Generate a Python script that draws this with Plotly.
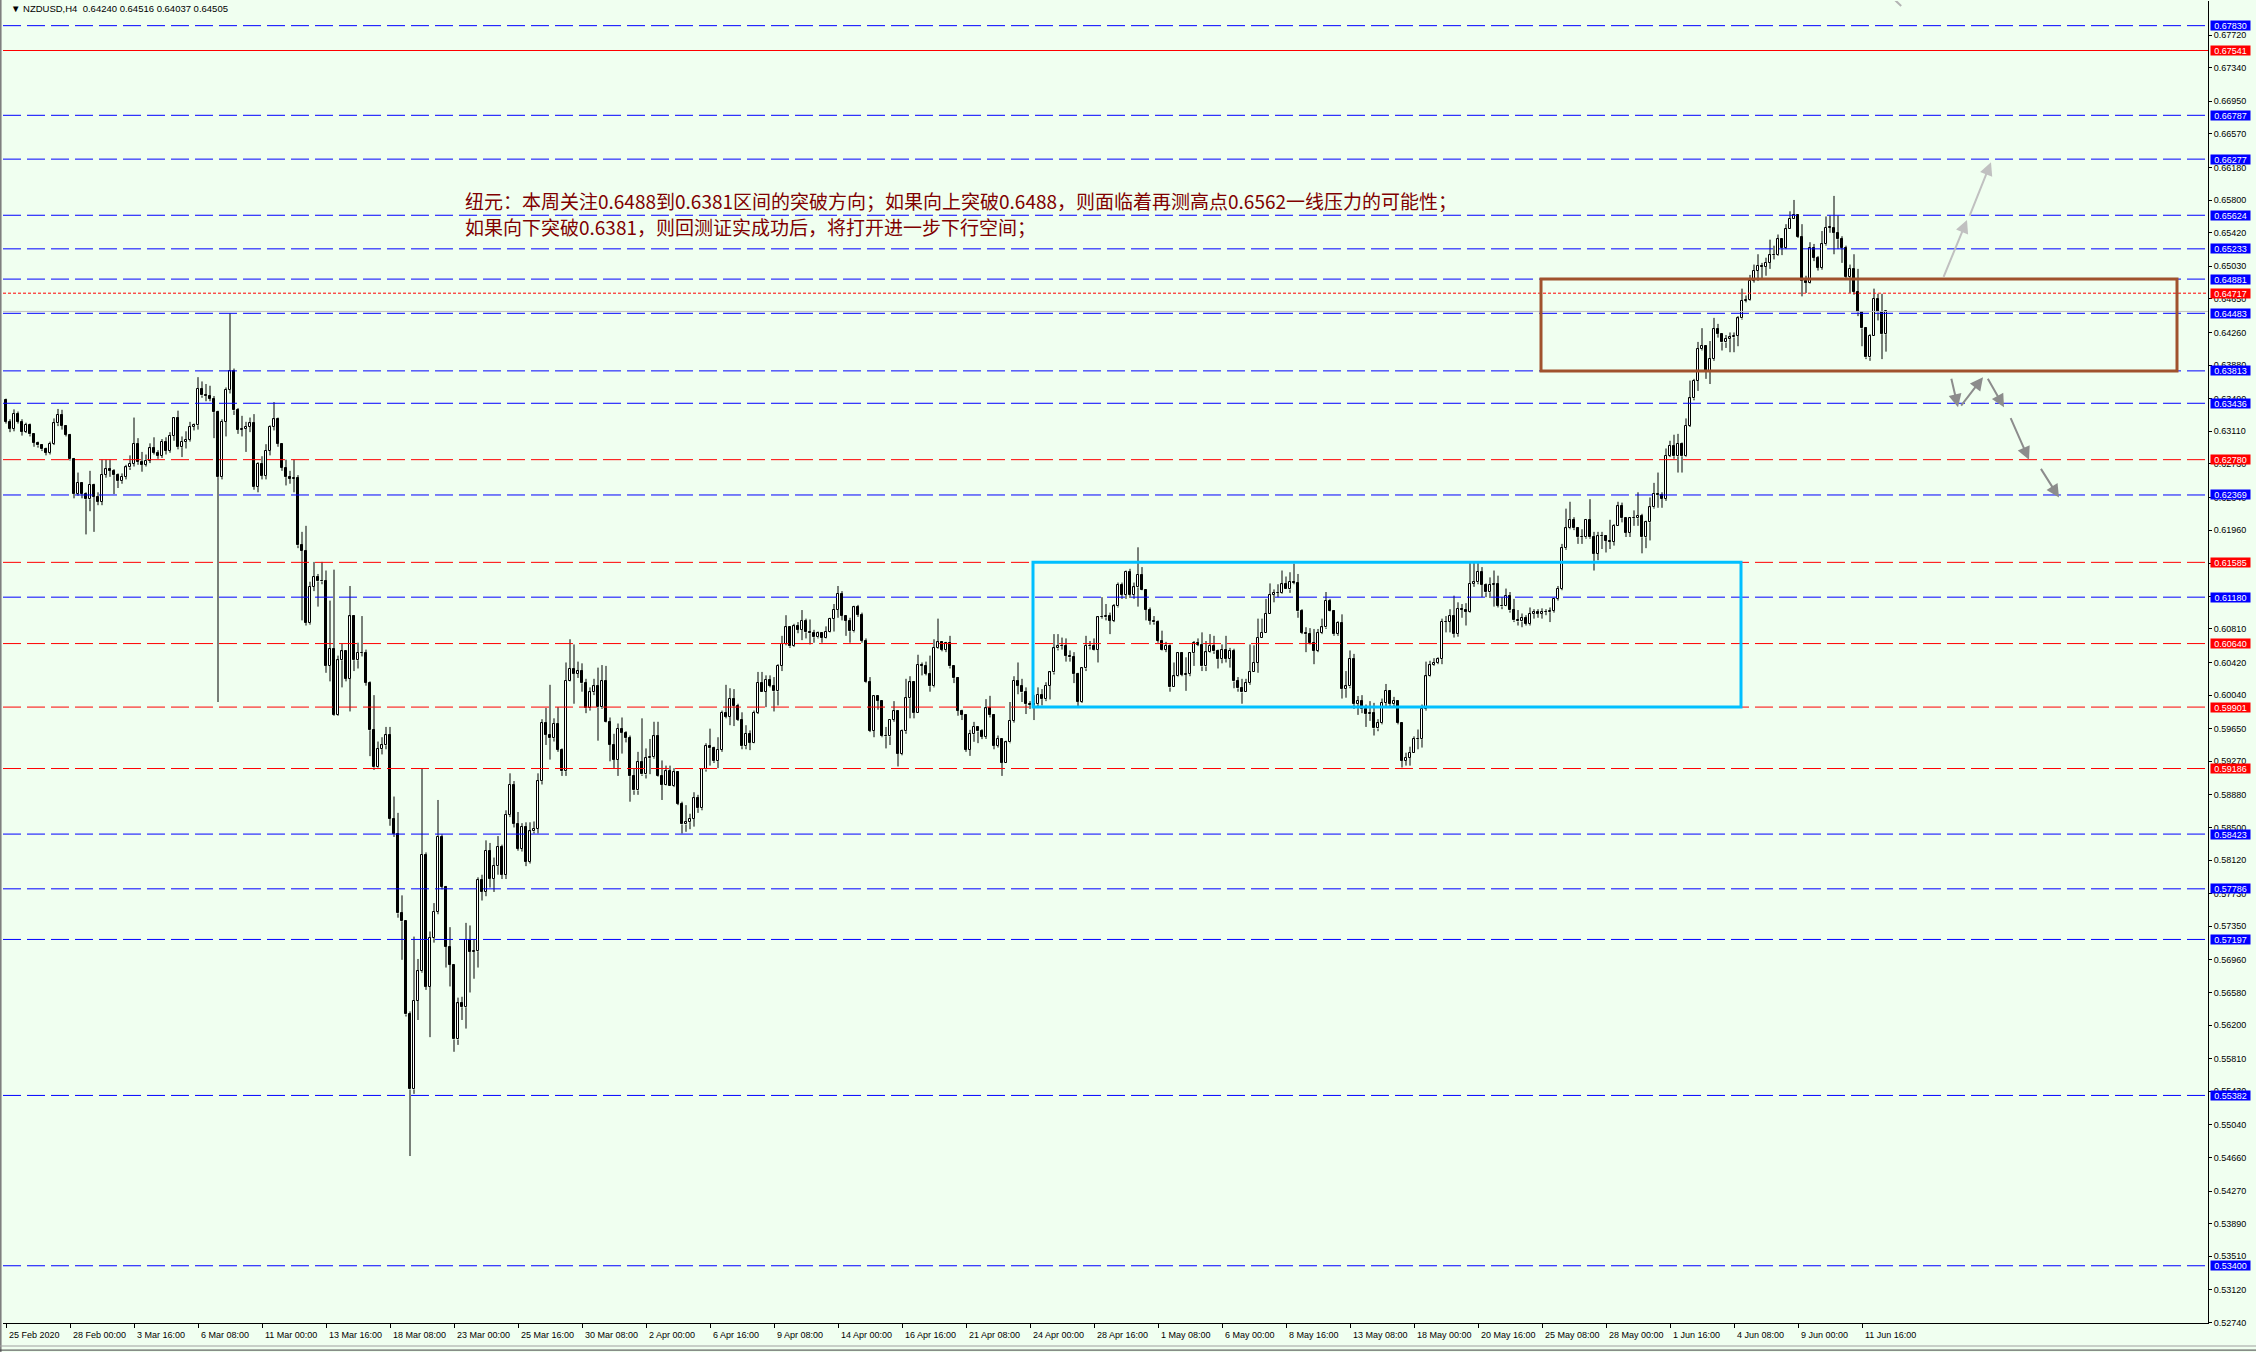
import plotly.graph_objects as go

# ---------------- data (NZDUSD H4) ----------------
first_open = 0.6347
closes = [
 0.63223,0.63139,0.63314,0.63223,0.63107,0.63185,0.63075,0.62978,0.62946,0.62900,
 0.62862,0.62965,0.63204,0.63301,0.63172,0.63068,0.62784,0.62384,0.62513,0.62384,
 0.62319,0.62487,0.62350,0.62290,0.62603,0.62668,0.62650,0.62600,0.62530,0.62580,
 0.62690,0.62730,0.62965,0.62752,0.62720,0.62770,0.62913,0.62862,0.62823,0.62991,
 0.62881,0.63055,0.63262,0.62926,0.62990,0.63010,0.63159,0.63180,0.63604,0.63527,
 0.63520,0.63488,0.63333,0.62577,0.63223,0.63592,0.63811,0.63353,0.63127,0.63140,
 0.63160,0.63204,0.62461,0.62732,0.62590,0.62881,0.63159,0.63250,0.62965,0.62687,
 0.62577,0.62560,0.62570,0.61783,0.61718,0.60878,0.61298,0.61414,0.61363,0.61370,
 0.60381,0.60575,0.59813,0.60446,0.60549,0.60232,0.60956,0.60446,0.60536,0.60530,
 0.60187,0.59631,0.59199,0.59412,0.59457,0.59573,0.58598,0.58423,0.57500,0.57409,
 0.56324,0.55452,0.56486,0.56828,0.58184,0.56647,0.57216,0.57520,0.58391,0.57810,
 0.57112,0.56905,0.56033,0.56453,0.56408,0.57196,0.57054,0.57060,0.57887,0.57750,
 0.58226,0.57900,0.58050,0.58272,0.57950,0.58648,0.59000,0.58543,0.58253,0.58505,
 0.58100,0.58454,0.58485,0.59039,0.59713,0.59578,0.59539,0.59706,0.59407,0.59155,
 0.60209,0.60345,0.60287,0.60318,0.60178,0.59888,0.60074,0.60144,0.59899,0.60202,
 0.59725,0.59462,0.59291,0.59648,0.59601,0.59539,0.59097,0.58931,0.59260,0.59117,
 0.59306,0.59318,0.59562,0.59097,0.58998,0.59155,0.58981,0.59144,0.58776,0.58535,
 0.58562,0.58601,0.58842,0.58725,0.59175,0.59446,0.59423,0.59272,0.59407,0.59834,
 0.59791,0.59996,0.59919,0.59756,0.59446,0.59589,0.59485,0.59834,0.60182,0.60082,
 0.60221,0.60151,0.60085,0.60384,0.60636,0.60830,0.60609,0.60841,0.60802,0.60907,
 0.60771,0.60760,0.60713,0.60760,0.60706,0.60779,0.60926,0.61031,0.61217,0.60965,
 0.60907,0.60783,0.61062,0.60977,0.60675,0.60190,0.59628,0.60027,0.59977,0.59562,
 0.59560,0.59752,0.59853,0.59357,0.59620,0.60004,0.60190,0.59834,0.60392,0.60384,
 0.60287,0.60144,0.60589,0.60655,0.60566,0.60643,0.60376,0.60237,0.59861,0.59814,
 0.59407,0.59586,0.59675,0.59617,0.59555,0.59885,0.59807,0.59450,0.59528,0.59256,
 0.59489,0.59741,0.60207,0.60149,0.60071,0.59935,0.59924,0.59935,0.60044,0.59993,
 0.60149,0.60304,0.60583,0.60607,0.60607,0.60498,0.60479,0.60285,0.59962,0.60351,
 0.60614,0.60607,0.60568,0.60945,0.60945,0.60964,0.60906,0.61073,0.61325,0.61205,
 0.61476,0.61205,0.61294,0.61438,0.61267,0.61031,0.60906,0.60886,0.60673,0.60568,
 0.60614,0.60129,0.60257,0.60529,0.60277,0.60285,0.60529,0.60646,0.60626,0.60374,
 0.60537,0.60614,0.60549,0.60459,0.60564,0.60459,0.60556,0.60199,0.60118,0.60071,
 0.60180,0.60313,0.60418,0.60709,0.60767,0.60988,0.61205,0.61228,0.61228,0.61330,
 0.61270,0.61358,0.61350,0.61014,0.60762,0.60750,0.60646,0.60556,0.60762,0.60828,
 0.61139,0.61014,0.60750,0.60879,0.60110,0.60141,0.60459,0.59935,0.59974,0.59877,
 0.59819,0.59827,0.59652,0.59714,0.59954,0.60090,0.59935,0.59974,0.59714,0.59275,
 0.59314,0.59372,0.59528,0.59528,0.59877,0.60257,0.60389,0.60413,0.60459,0.60894,
 0.60894,0.60964,0.60750,0.61044,0.61036,0.61013,0.61335,0.61354,0.61478,0.61323,
 0.61237,0.61323,0.61335,0.61083,0.61072,0.61199,0.61025,0.60909,0.60897,0.60936,
 0.60870,0.60986,0.61005,0.60986,0.61005,0.61005,0.61021,0.61160,0.61277,0.61750,
 0.61982,0.62083,0.61982,0.61877,0.61877,0.62083,0.61877,0.61684,0.61889,0.61889,
 0.61838,0.61827,0.62013,0.62238,0.62098,0.61928,0.62098,0.62098,0.62129,0.61877,
 0.62052,0.62226,0.62381,0.62369,0.62323,0.62826,0.62943,0.62819,0.62962,0.62819,
 0.63175,0.63493,0.63698,0.64066,0.64105,0.63815,0.63950,0.64299,0.64241,0.64144,
 0.64183,0.64202,0.64221,0.64423,0.64628,0.64640,0.64859,0.64977,0.65035,0.65027,
 0.65074,0.65159,0.65159,0.65345,0.65248,0.65461,0.65585,0.65624,0.65376,0.64861,
 0.64841,0.65248,0.65132,0.65016,0.65287,0.65481,0.65481,0.65423,0.65345,0.65248,
 0.64911,0.65004,0.64733,0.64493,0.64307,0.63970,0.64221,0.64655,0.64493,0.64240,
 0.64505]
highs = [
 0.6349,0.6325,0.63365,0.6334,0.6325,0.6321,0.6320,0.6308,0.6299,0.6296,
 0.6292,0.6299,0.6326,0.6337,0.6336,0.6318,0.6308,0.6280,0.6263,0.6252,
 0.6240,0.6265,0.6250,0.6240,0.6278,0.6278,0.6278,0.6267,0.6262,0.6262,
 0.6272,0.6283,0.6327,0.6303,0.6287,0.6284,0.6297,0.6304,0.6289,0.6302,
 0.6304,0.6310,0.6327,0.6335,0.6305,0.6311,0.6322,0.6320,0.6374,0.6369,
 0.6366,0.6364,0.6352,0.6335,0.6325,0.6362,0.64483,0.6384,0.6338,0.6329,
 0.6322,0.6327,0.6331,0.6275,0.6282,0.6296,0.6318,0.6345,0.6327,0.6297,
 0.6278,0.6265,0.6278,0.6260,0.6194,0.6201,0.6136,0.6159,0.6145,0.6159,
 0.6149,0.6114,0.6150,0.6050,0.6064,0.6052,0.6131,0.6097,0.6065,0.6096,
 0.6057,0.6020,0.6004,0.5950,0.5955,0.5967,0.5967,0.5886,0.5867,0.5771,
 0.5737,0.5636,0.5723,0.5697,0.59192,0.5821,0.5729,0.5762,0.5882,0.5842,
 0.5782,0.5734,0.5690,0.5652,0.5653,0.5739,0.5736,0.5720,0.5792,0.5795,
 0.5835,0.5832,0.5815,0.5840,0.5830,0.5870,0.5913,0.5904,0.5868,0.5855,
 0.5856,0.5856,0.5857,0.5913,0.5976,0.5989,0.6016,0.5977,0.5990,0.5942,
 0.6042,0.6069,0.6063,0.6043,0.6041,0.6023,0.6013,0.6023,0.6036,0.6039,
 0.6038,0.5978,0.5959,0.5971,0.5978,0.5962,0.5957,0.5918,0.5938,0.5977,
 0.5942,0.5953,0.5973,0.5973,0.5928,0.5922,0.5922,0.5919,0.5915,0.5880,
 0.5876,0.5866,0.5891,0.5888,0.5919,0.5948,0.5965,0.5944,0.5955,0.5986,
 0.6016,0.6012,0.6011,0.5994,0.5984,0.5969,0.5963,0.5986,0.6031,0.6031,
 0.6027,0.6027,0.6025,0.6040,0.6073,0.6097,0.6084,0.6087,0.6089,0.6103,
 0.6093,0.6092,0.6080,0.6078,0.6077,0.6084,0.6094,0.6110,0.6131,0.6125,
 0.6097,0.6094,0.6108,0.6109,0.6100,0.6070,0.6025,0.6003,0.6003,0.5998,
 0.5967,0.5975,0.5997,0.5986,0.5964,0.6023,0.6026,0.6020,0.6051,0.6042,
 0.6043,0.6050,0.6069,0.6093,0.6066,0.6066,0.6073,0.6033,0.6025,0.5987,
 0.5982,0.59636,0.59729,0.59675,0.59644,0.59993,0.60032,0.5982,0.5957,0.5949,
 0.5951,0.5996,0.6026,0.6042,0.6023,0.6013,0.5997,0.6004,0.6013,0.6011,
 0.6019,0.6032,0.6075,0.6075,0.6071,0.6070,0.6056,0.6054,0.6030,0.6036,
 0.6073,0.6067,0.6070,0.6096,0.6118,0.6110,0.6100,0.6110,0.6135,0.6135,
 0.6149,0.6151,0.6135,0.6176,0.6153,0.6127,0.6106,0.6096,0.6091,0.6079,
 0.6066,0.6063,0.6042,0.6054,0.6054,0.6048,0.6054,0.6067,0.6070,0.6077,
 0.6067,0.6075,0.6073,0.6057,0.6063,0.6073,0.6059,0.6058,0.6025,0.6023,
 0.6023,0.6063,0.6062,0.6093,0.6093,0.6116,0.6134,0.6127,0.6133,0.6149,
 0.6142,0.6147,0.6157,0.6145,0.6104,0.6083,0.6082,0.6081,0.6081,0.6093,
 0.6124,0.6116,0.6103,0.6090,0.6098,0.6032,0.6056,0.6052,0.6003,0.6004,
 0.5993,0.5997,0.5995,0.5976,0.6000,0.6017,0.6010,0.6002,0.5997,0.5972,
 0.5937,0.5944,0.5956,0.5964,0.5993,0.6043,0.6044,0.6047,0.6048,0.6093,
 0.6096,0.6104,0.61197,0.6112,0.6110,0.6111,0.61594,0.6159,0.6159,0.6153,
 0.6134,0.6141,0.6149,0.6143,0.6118,0.6128,0.6124,0.6116,0.6103,0.6099,
 0.6097,0.6106,0.6104,0.6104,0.6105,0.6104,0.6106,0.6117,0.6131,0.6180,
 0.6221,0.6229,0.6211,0.6199,0.6197,0.6209,0.6232,0.6194,0.6194,0.6194,
 0.6190,0.6208,0.6203,0.6229,0.6228,0.6210,0.6211,0.6219,0.6240,0.6215,
 0.6207,0.6234,0.6251,0.6263,0.6240,0.6291,0.6300,0.6307,0.6308,0.6298,
 0.6326,0.6370,0.6372,0.6415,0.6431,0.6411,0.6416,0.6443,0.6436,0.6424,
 0.6423,0.6426,0.6426,0.6445,0.6477,0.6469,0.6493,0.6505,0.6517,0.6507,
 0.6513,0.6534,0.6527,0.6540,0.6534,0.6552,0.6567,0.65802,0.6563,0.6552,
 0.6492,0.6531,0.6529,0.6515,0.6544,0.6561,0.6562,0.65849,0.6562,0.6538,
 0.6527,0.6505,0.6517,0.6500,0.6449,0.6432,0.6424,0.6477,0.6471,0.6471,
 0.64516]
lows = [
 0.6320,0.6310,0.6311,0.6320,0.6306,0.6309,0.6305,0.6293,0.6292,0.6288,
 0.6283,0.6284,0.6295,0.6317,0.6313,0.6305,0.6277,0.6233,0.6236,0.6233,
 0.6191,0.6218,0.6194,0.6225,0.6225,0.6257,0.6258,0.6238,0.6245,0.6250,
 0.6255,0.6266,0.6270,0.6272,0.6264,0.6270,0.6274,0.6284,0.6279,0.6280,
 0.6284,0.6286,0.6300,0.6290,0.6281,0.6291,0.6299,0.6312,0.6313,0.6350,
 0.6346,0.6346,0.6303,0.59960,0.6255,0.6305,0.6355,0.6330,0.6308,0.6305,
 0.6287,0.6310,0.6243,0.6240,0.6255,0.6255,0.6283,0.6312,0.6293,0.6265,
 0.6248,0.6250,0.6240,0.6175,0.6091,0.6085,0.6086,0.6125,0.6107,0.6133,
 0.6030,0.6020,0.5980,0.5980,0.6013,0.6020,0.5985,0.6032,0.6035,0.6049,
 0.6015,0.5933,0.5917,0.5918,0.5935,0.5941,0.5852,0.5839,0.5745,0.5696,
 0.5630,0.54677,0.5540,0.5626,0.5681,0.5661,0.5606,0.5716,0.5749,0.5778,
 0.5687,0.5665,0.5589,0.5597,0.5626,0.5616,0.5658,0.5674,0.5687,0.5765,
 0.5770,0.5780,0.5775,0.5795,0.5790,0.5790,0.5862,0.5850,0.5823,0.5822,
 0.5805,0.5808,0.5843,0.5843,0.5900,0.5946,0.5929,0.5950,0.5938,0.5910,
 0.5910,0.6020,0.5994,0.6024,0.6008,0.5983,0.5986,0.6004,0.5951,0.5988,
 0.5972,0.5927,0.5919,0.5910,0.5936,0.5949,0.5880,0.5888,0.5888,0.5910,
 0.5907,0.5912,0.5930,0.5909,0.5882,0.5899,0.5898,0.5897,0.5876,0.5843,
 0.5845,0.5848,0.5851,0.5867,0.5870,0.5915,0.5922,0.5925,0.5919,0.5938,
 0.5977,0.5969,0.5968,0.5974,0.5941,0.5941,0.5940,0.5948,0.5982,0.6008,
 0.5990,0.6013,0.5985,0.5992,0.6032,0.6062,0.6059,0.6060,0.6076,0.6068,
 0.6070,0.6063,0.6065,0.6070,0.6065,0.6070,0.6077,0.6078,0.6094,0.6091,
 0.6073,0.6065,0.6077,0.6095,0.6065,0.6018,0.5961,0.5955,0.5987,0.5955,
 0.5942,0.5946,0.5973,0.5921,0.5934,0.5959,0.5977,0.5977,0.5991,0.6027,
 0.6027,0.6008,0.6013,0.6058,0.6055,0.6054,0.6035,0.6018,0.5980,0.5975,
 0.5938,0.59333,0.59497,0.59481,0.59528,0.5953,0.5978,0.5941,0.5943,0.5910,
 0.5925,0.5948,0.5972,0.6005,0.5996,0.5982,0.5988,0.5975,0.5991,0.5992,
 0.5997,0.5999,0.6028,0.6056,0.6057,0.6043,0.6043,0.6018,0.5991,0.5995,
 0.6032,0.6057,0.6056,0.6042,0.6093,0.6091,0.6075,0.6089,0.6106,0.6116,
 0.6116,0.6117,0.6116,0.6107,0.6126,0.6091,0.6086,0.6086,0.6065,0.6056,
 0.6054,0.6008,0.6013,0.6025,0.6026,0.6009,0.6026,0.6038,0.6061,0.6032,
 0.6032,0.6053,0.6052,0.6035,0.6041,0.6042,0.6036,0.6012,0.6008,0.5994,
 0.6008,0.6016,0.6038,0.6030,0.6080,0.6085,0.6107,0.6112,0.6118,0.6122,
 0.6127,0.6123,0.6133,0.6094,0.6075,0.6054,0.6063,0.6040,0.6054,0.6075,
 0.6081,0.6101,0.6073,0.6073,0.6000,0.6001,0.6012,0.5988,0.5981,0.5983,
 0.5967,0.5974,0.5957,0.5962,0.5970,0.5991,0.5991,0.5991,0.5970,0.59198,
 0.5922,0.5922,0.5937,0.5941,0.5943,0.5986,0.6025,0.6038,0.6040,0.6040,
 0.6077,0.6077,0.6071,0.6072,0.6094,0.6085,0.6100,0.6130,0.6133,0.6118,
 0.6118,0.6117,0.6107,0.6106,0.6104,0.6107,0.6100,0.6089,0.6085,0.6083,
 0.6085,0.6085,0.6093,0.6094,0.6093,0.6097,0.6089,0.6100,0.6114,0.6126,
 0.6173,0.6197,0.6196,0.6180,0.6180,0.6186,0.6186,0.6149,0.6161,0.6174,
 0.6170,0.6174,0.6178,0.6201,0.6205,0.6188,0.6188,0.6201,0.6201,0.6169,
 0.6175,0.6184,0.6221,0.6222,0.6222,0.6230,0.6281,0.6279,0.6263,0.6263,
 0.6281,0.6316,0.6347,0.6358,0.6405,0.6372,0.6366,0.6393,0.6420,0.6405,
 0.6408,0.6403,0.6403,0.6410,0.6441,0.6461,0.6463,0.6484,0.6486,0.6488,
 0.6492,0.6500,0.6511,0.6515,0.6516,0.6523,0.6546,0.6558,0.6536,0.6468,
 0.6472,0.6483,0.6509,0.6498,0.6499,0.6527,0.6542,0.6517,0.6523,0.6507,
 0.6488,0.6472,0.6470,0.6445,0.6410,0.6395,0.6393,0.6422,0.6440,0.6395,
 0.64037]

date_labels = ["25 Feb 2020", "28 Feb 00:00", "3 Mar 16:00", "6 Mar 08:00", "11 Mar 00:00",
               "13 Mar 16:00", "18 Mar 08:00", "23 Mar 00:00", "25 Mar 16:00", "30 Mar 08:00",
               "2 Apr 00:00", "6 Apr 16:00", "9 Apr 08:00", "14 Apr 00:00", "16 Apr 16:00",
               "21 Apr 08:00", "24 Apr 00:00", "28 Apr 16:00", "1 May 08:00", "6 May 00:00",
               "8 May 16:00", "13 May 08:00", "18 May 00:00", "20 May 16:00", "25 May 08:00",
               "28 May 00:00", "1 Jun 16:00", "4 Jun 08:00", "9 Jun 00:00", "11 Jun 16:00"]
date_bars = [16 * i for i in range(len(date_labels))]

price_ticks = [0.67720, 0.67340, 0.66950, 0.66570, 0.66180, 0.65800, 0.65420, 0.65030,
               0.64650, 0.64260, 0.63880, 0.63490, 0.63110, 0.62730, 0.62340, 0.61960,
               0.61570, 0.61190, 0.60810, 0.60420, 0.60040, 0.59650, 0.59270, 0.58880,
               0.58500, 0.58120, 0.57730, 0.57350, 0.56960, 0.56580, 0.56200, 0.55810,
               0.55430, 0.55040, 0.54660, 0.54270, 0.53890, 0.53510, 0.53120, 0.52740]

blue_levels = [0.67830, 0.66787, 0.66277, 0.65624, 0.65233, 0.64881, 0.64483, 0.63813,
               0.63436, 0.62369, 0.61180, 0.58423, 0.57786, 0.57197, 0.55382, 0.53400]
red_dash_levels = [0.62780, 0.61585, 0.60640, 0.59901, 0.59186]
red_solid_level = 0.67541
red_dot_level = 0.64717
bid_level = 0.64505

# boxes: (bar from, bar to, price low, price high)
cyan_box = (256.75, 433.75, 0.59901, 0.61585)
brown_box = (383.75, 542.75, 0.63813, 0.64881)

# arrowed trend lines: (bar tail, price tail, bar head, price head)
light_arrows = [(484.25, 0.6489, 490.25, 0.6557), (490.75, 0.6560, 496.25, 0.6624)]
dark_arrows = [(486.25, 0.6374, 488.0, 0.6339), (488.5, 0.6339, 494.25, 0.6374),
               (495.25, 0.6374, 499.5, 0.6339), (501.0, 0.6328, 505.75, 0.6278),
               (508.5, 0.6269, 513.25, 0.6234)]
# stub of a trend line leaving the top edge
top_stub = (471.5, 0.6816, 473.8, 0.6806)

header = "\u25BC NZDUSD,H4  0.64240 0.64516 0.64037 0.64505"
note_line1 = "纽元：本周关注0.6488到0.6381区间的突破方向；如果向上突破0.6488，则面临着再测高点0.6562一线压力的可能性；"
note_line2 = "如果向下突破0.6381，则回测证实成功后，将打开进一步下行空间；"

# ---------------- build ----------------
n = len(closes)
opens = [first_open] + closes[:-1]
highs = [max(h, o, c) for h, o, c in zip(highs, opens, closes)]
lows = [min(l, o, c) for l, o, c in zip(lows, opens, closes)]

BG = "#F0FFF0"
FONT = "Liberation Sans"

fig = go.Figure()

# wicks (upper and lower parts only, so hollow bodies stay clean)
wx, wy = [], []
for i in range(n):
    top = max(opens[i], closes[i])
    bot = min(opens[i], closes[i])
    if highs[i] > top:
        wx += [i, i, None]
        wy += [top, highs[i], None]
    if lows[i] < bot:
        wx += [i, i, None]
        wy += [bot, lows[i], None]
fig.add_trace(go.Scatter(x=wx, y=wy, mode="lines", line=dict(color="black", width=1),
                         hoverinfo="skip", showlegend=False))

minh = 0.000012
up_x = [i for i in range(n) if closes[i] >= opens[i]]
dn_x = [i for i in range(n) if closes[i] < opens[i]]
fig.add_trace(go.Bar(x=up_x,
                     y=[max(closes[i] - opens[i], minh) for i in up_x],
                     base=[opens[i] for i in up_x], width=0.55,
                     marker=dict(color="white", line=dict(color="black", width=1)),
                     showlegend=False, hoverinfo="skip"))
fig.add_trace(go.Bar(x=dn_x,
                     y=[max(opens[i] - closes[i], minh) for i in dn_x],
                     base=[closes[i] for i in dn_x], width=0.55,
                     marker=dict(color="black", line=dict(color="black", width=1)),
                     showlegend=False, hoverinfo="skip"))

shapes = []
def hline(y, color, dash):
    shapes.append(dict(type="line", xref="paper", x0=0, x1=1, yref="y", y0=y, y1=y,
                       line=dict(color=color, width=1, dash=dash), layer="above"))

hline(bid_level, "#C0C0C0", "solid")
for lv in blue_levels:
    hline(lv, "#0000FF", "18px,6px")
for lv in red_dash_levels:
    hline(lv, "#FF0000", "18px,6px")
hline(red_solid_level, "#FF0000", "solid")
hline(red_dot_level, "#FF0000", "3px,2px")

for (x0, x1, y0, y1), col in ((cyan_box, "#00BFFF"), (brown_box, "#A0522D")):
    shapes.append(dict(type="rect", xref="x", yref="y", x0=x0, x1=x1, y0=y0, y1=y1,
                       line=dict(color=col, width=3), fillcolor="rgba(0,0,0,0)", layer="above"))

sx0, sy0, sx1, sy1 = top_stub
shapes.append(dict(type="line", xref="x", yref="y", x0=sx0, y0=sy0, x1=sx1, y1=sy1,
                   line=dict(color="#B4B4B4", width=2), layer="above"))

# window frame on the left and bottom strip
shapes.append(dict(type="line", xref="paper", yref="paper", x0=-0.0011, x1=-0.0011, y0=-0.03, y1=1.001,
                   line=dict(color="#7F7F7F", width=2)))
shapes.append(dict(type="line", xref="paper", yref="paper", x0=-0.01, x1=1.03, y0=-0.0174, y1=-0.0174,
                   line=dict(color="#A0A0A0", width=1)))
shapes.append(dict(type="line", xref="paper", yref="paper", x0=-0.01, x1=1.03, y0=-0.0205, y1=-0.0205,
                   line=dict(color="#404040", width=1)))

annotations = []
# colored price boxes on the axis
def price_box(y, color):
    annotations.append(dict(xref="paper", x=1, xanchor="left", xshift=2, yref="y", y=y,
                            yanchor="middle", text="%.5f" % y, showarrow=False,
                            font=dict(family=FONT, size=9, color="white"),
                            bgcolor=color, width=39, height=9, borderpad=0, align="center"))
for lv in blue_levels:
    price_box(lv, "#0000FF")
for lv in red_dash_levels + [red_solid_level, red_dot_level]:
    price_box(lv, "#FF0000")

# date labels
for b, t in zip(date_bars, date_labels):
    annotations.append(dict(xref="x", x=b, xanchor="left", xshift=1, yref="paper", y=0,
                            yanchor="top", yshift=-5, text=t, showarrow=False,
                            font=dict(family=FONT, size=9, color="black")))

# header
annotations.append(dict(xref="paper", x=0.0027, xanchor="left", yref="paper", y=0.9947,
                        yanchor="middle", text=header, showarrow=False,
                        font=dict(family=FONT, size=9.5, color="black")))

# note text
for txt, yv in ((note_line1, 0.65790), (note_line2, 0.65488)):
    annotations.append(dict(xref="x", x=114.25, xanchor="left", yref="y", y=yv,
                            yanchor="middle", text=txt, showarrow=False,
                            font=dict(family="Noto Sans CJK SC", size=19, color="#800000")))

# arrows
for arr, col in ((light_arrows, "#C0C0C0"), (dark_arrows, "#8C8C8C")):
    for (tx, ty, hx, hy) in arr:
        annotations.append(dict(x=hx, y=hy, ax=tx, ay=ty, xref="x", yref="y",
                                axref="x", ayref="y", showarrow=True, text="",
                                arrowhead=2, arrowsize=1.3, arrowwidth=2, arrowcolor=col))

fig.update_layout(
    width=2256, height=1352,
    margin=dict(l=3, r=48, t=1, b=29),
    paper_bgcolor=BG, plot_bgcolor=BG,
    barmode="overlay", bargap=0,
    showlegend=False,
    shapes=shapes, annotations=annotations,
    xaxis=dict(range=[-0.75, 550.5], showgrid=False, zeroline=False,
               showline=True, linecolor="black", linewidth=1,
               tickvals=date_bars, ticks="outside", ticklen=4, tickcolor="black",
               showticklabels=False, rangeslider=dict(visible=False), fixedrange=True),
    yaxis=dict(range=[0.52734, 0.68117], side="right", showgrid=False, zeroline=False,
               showline=True, linecolor="black", linewidth=1,
               tickvals=price_ticks, ticktext=["%.5f" % v for v in price_ticks],
               ticks="outside", ticklen=3, tickcolor="black",
               tickfont=dict(family=FONT, size=9, color="black"), fixedrange=True),
)

fig.write_html("out.html", config={"displayModeBar": False},
               post_script="document.body.style.margin='0';")
